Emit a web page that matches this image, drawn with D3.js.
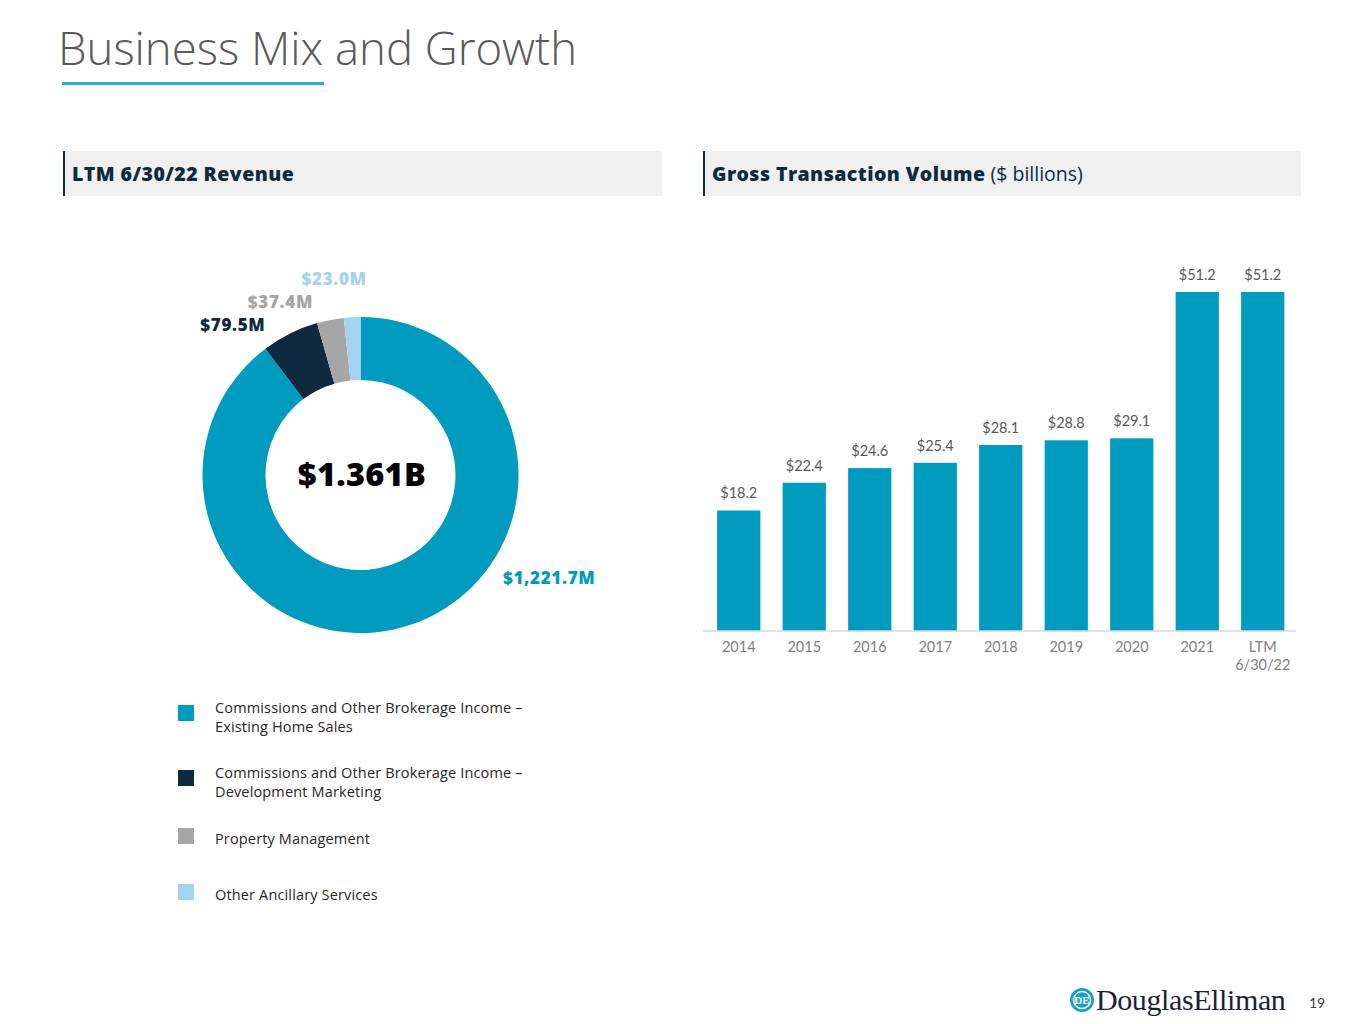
<!DOCTYPE html>
<html>
<head>
<meta charset="utf-8">
<script src="https://cdn.jsdelivr.net/npm/d3@7"></script>
<style>
  body { margin: 0; background: #fff; }
  svg { display: block; font-family: "Open Sans", Lato, sans-serif; }
</style>
</head>
<body>
<script>
// revenue mix, LTM 6/30/22 ($M)
const segments = [
  "Commissions and Other Brokerage Income – Existing Home Sales",
  "Commissions and Other Brokerage Income – Development Marketing",
  "Property Management",
  "Other Ancillary Services"
]
const segmentRevenue = [1221.7, 79.5, 37.4, 23.0]
const segmentLabels = ["$1,221.7M", "$79.5M", "$37.4M", "$23.0M"]
const legendLines = [
  ["Commissions and Other Brokerage Income –", "Existing Home Sales"],
  ["Commissions and Other Brokerage Income –", "Development Marketing"],
  ["Property Management"],
  ["Other Ancillary Services"]
]
const totalLabel = "$1.361B"

// gross transaction volume ($ billions)
const years = ["2014", "2015", "2016", "2017", "2018", "2019", "2020", "2021", "LTM 6/30/22"]
const gtv = [18.2, 22.4, 24.6, 25.4, 28.1, 28.8, 29.1, 51.2, 51.2]

const width = 1365, height = 1024
const segColors = ["#009bbe", "#0f2a3e", "#a6a6a6", "#a5d3ee"]
const barFont = "Lato, 'Open Sans', sans-serif"

const svg = d3.select("body").append("svg")
  .attr("width", width)
  .attr("height", height)
  .attr("viewBox", [0, 0, width, height])

// title
svg.append("text")
  .attr("x", 58)
  .attr("y", 65)
  .attr("font-size", 45.5)
  .attr("font-weight", 300)
  .attr("fill", "#595959")
  .text("Business Mix and Growth")
svg.append("rect")
  .attr("x", 62).attr("y", 82)
  .attr("width", 262).attr("height", 3)
  .attr("fill", "#2bb0cc")

// section headers
const headers = [
  {x: 63, w: 599, bold: "LTM 6/30/22 Revenue", rest: ""},
  {x: 703, w: 598, bold: "Gross Transaction Volume", rest: " ($ billions)"}
]
headers.forEach(h => {
  svg.append("rect")
    .attr("x", h.x).attr("y", 151)
    .attr("width", h.w).attr("height", 45)
    .attr("fill", "#f0f0f0")
  svg.append("rect")
    .attr("x", h.x).attr("y", 151)
    .attr("width", 2).attr("height", 45)
    .attr("fill", "#0f2a3e")
  const t = svg.append("text")
    .attr("x", h.x + 9)
    .attr("y", 181)
    .attr("font-size", 19.5)
    .attr("fill", "#0f2a3e")
  t.append("tspan").attr("font-weight", 800).attr("letter-spacing", 0.45).text(h.bold)
  t.append("tspan").attr("font-weight", 400).text(h.rest)
})

// donut
const cx = 360.5, cy = 475
const outerR = 158, innerR = 95
const color = d3.scaleOrdinal(segments, segColors)

const pie = d3.pie().sort(null).value(d => d)
const arcs = pie(segmentRevenue)
const arc = d3.arc().innerRadius(innerR).outerRadius(outerR)

const donut = svg.append("g")
  .attr("transform", `translate(${cx},${cy})`)

donut.selectAll("path")
  .data(arcs)
  .join("path")
  .attr("fill", (d, i) => color(segments[i]))
  .attr("d", arc)

donut.append("text")
  .attr("text-anchor", "middle")
  .attr("x", 1.5)
  .attr("y", 11)
  .attr("font-size", 32.5)
  .attr("font-weight", 800)
  .attr("letter-spacing", 0.3)
  .attr("fill", "#000")
  .text(totalLabel)

// slice labels: big slice labelled out to the lower right,
// small slices stacked above their start edge
const labelPos = (d, i) => {
  if (i === 0) {
    const a = d.startAngle + (d.endAngle - d.startAngle) * 0.39
    const [x, y] = d3.pointRadial(a, outerR + 18)
    return {x, y: y + 6, anchor: "start"}
  }
  const [x, y] = d3.pointRadial(d.startAngle, outerR)
  const shift = [null, [0, -18], [-4, -15], [23, -33]][i]
  return {x: x + shift[0], y: y + shift[1], anchor: "end"}
}

donut.selectAll("text.slice")
  .data(arcs)
  .join("text")
  .attr("class", "slice")
  .each(function(d, i) {
    const p = labelPos(d, i)
    d3.select(this)
      .attr("x", p.x)
      .attr("y", p.y)
      .attr("text-anchor", p.anchor)
  })
  .attr("font-size", 17)
  .attr("font-weight", 800)
  .attr("letter-spacing", 0.7)
  .attr("fill", (d, i) => color(segments[i]))
  .text((d, i) => segmentLabels[i])

// legend
const legendY = d3.scaleOrdinal(segments, [706, 771, 831, 887])
const legend = svg.append("g")
  .selectAll("g")
  .data(segments)
  .join("g")
  .attr("transform", d => `translate(178,${legendY(d)})`)

legend.append("rect")
  .attr("width", 16).attr("height", 16)
  .attr("y", (d, i) => legendLines[i].length > 1 ? -1 : -3)
  .attr("fill", d => color(d))

legend.append("text")
  .attr("x", 37)
  .attr("font-size", 14.5)
  .attr("letter-spacing", 0.15)
  .attr("fill", "#262626")
  .each(function(d, i) {
    const lines = legendLines[i]
    d3.select(this).selectAll("tspan")
      .data(lines)
      .join("tspan")
      .attr("x", 37)
      .attr("y", (l, j) => (lines.length > 1 ? 7 : 13) + j * 18.5)
      .text(l => l)
  })

// bar chart
const x = d3.scaleBand()
  .domain(years)
  .range([706, 1295.5])
  .paddingInner(0.34)
  .paddingOuter(0.17)

const y = d3.scaleLinear()
  .domain([0, 51.2])
  .range([631, 292])

svg.append("g")
  .selectAll("rect")
  .data(gtv)
  .join("rect")
  .attr("x", (d, i) => x(years[i]))
  .attr("y", d => y(d))
  .attr("width", x.bandwidth())
  .attr("height", d => y(0) - y(d))
  .attr("fill", "#009bbe")

svg.append("g")
  .selectAll("text")
  .data(gtv)
  .join("text")
  .attr("x", (d, i) => x(years[i]) + x.bandwidth() / 2)
  .attr("y", d => y(d) - 12)
  .attr("text-anchor", "middle")
  .attr("font-family", barFont)
  .attr("font-size", 14.5)
  .attr("fill", "#595959")
  .text(d => `$${d.toFixed(1)}`)

const xAxis = d3.axisBottom(x).tickSize(0).tickSizeOuter(0).tickPadding(11)

svg.append("g")
  .attr("transform", `translate(0,${y(0)})`)
  .call(xAxis)
  .call(g => g.select(".domain").attr("stroke", "#d9d9d9").attr("stroke-width", 1.5)
    .attr("d", "M703,0H1296"))
  .call(g => g.selectAll(".tick text")
    .attr("font-family", barFont)
    .attr("font-size", 14.5)
    .attr("fill", "#7f7f7f")
    .each(function(d) {
      const parts = d.split(" ")
      if (parts.length > 1) {
        const t = d3.select(this).text(null)
        t.append("tspan").attr("x", 0).text(parts[0])
        t.append("tspan").attr("x", 0).attr("dy", "1.2em").text(parts[1])
      }
    }))

// footer
const logo = svg.append("g").attr("transform", "translate(1082,1000)")
logo.append("circle").attr("r", 12).attr("fill", "#1a9fc6")
logo.append("circle").attr("r", 8.5).attr("fill", "none").attr("stroke", "#fff").attr("stroke-width", 1.5)
logo.append("text")
  .attr("text-anchor", "middle")
  .attr("y", 4)
  .attr("font-family", "'Liberation Serif', serif")
  .attr("font-size", 11)
  .attr("font-weight", 700)
  .attr("fill", "#fff")
  .text("DE")

svg.append("text")
  .attr("x", 1096)
  .attr("y", 1010)
  .attr("font-family", "'Liberation Serif', 'DejaVu Serif', serif")
  .attr("font-size", 30)
  .attr("letter-spacing", -0.8)
  .attr("fill", "#1b1f3b")
  .attr("textLength", 189)
  .text("DouglasElliman")

svg.append("text")
  .attr("x", 1309)
  .attr("y", 1008)
  .attr("font-family", barFont)
  .attr("font-size", 14)
  .attr("fill", "#404040")
  .text("19")
</script>
</body>
</html>
